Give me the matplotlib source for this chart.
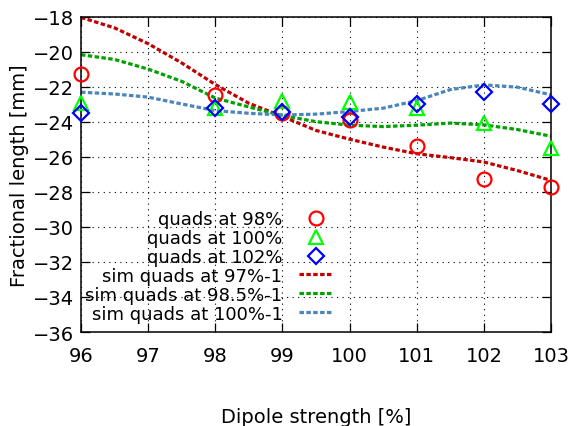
import matplotlib.pyplot as plt

# measured points
x_meas = [96, 98, 99, 100, 101, 102, 103]
q98 = [-21.3, -22.5, -23.5, -23.9, -25.4, -27.25, -27.7]
q100 = [-22.95, -23.2, -22.8, -22.85, -23.22, -24.05, -25.5]
q102 = [-23.5, -23.2, -23.45, -23.75, -23.0, -22.3, -23.0]

# simulated curves
x_sim = [96, 96.5, 97, 97.5, 98, 98.5, 99, 99.5, 100, 100.5, 101, 101.5, 102, 102.5, 103]
sim97 = [-18.05, -18.65, -19.55, -20.65, -21.88, -22.95, -23.7, -24.5, -25.0,
         -25.45, -25.83, -26.05, -26.3, -26.79, -27.35]
sim985 = [-20.18, -20.45, -21.0, -21.7, -22.65, -23.16, -23.65, -24.0, -24.2,
          -24.28, -24.2, -24.08, -24.18, -24.45, -24.83]
sim100 = [-22.32, -22.42, -22.6, -22.99, -23.37, -23.52, -23.62, -23.57, -23.42,
          -23.23, -22.8, -22.17, -21.9, -22.03, -22.47]

xticks = [96, 97, 98, 99, 100, 101, 102, 103]
yticks = list(range(-36, -17, 2))

fig = plt.figure(figsize=(5.75, 4.27), dpi=100)
ax = fig.add_axes([0.1409, 0.2201, 0.8174, 0.7389])

ms = 10
mew = 1.6
ax.plot(x_meas, q98, 'o', ms=ms, mfc='none', mec='#ff0000', mew=mew, clip_on=False,
        zorder=4, label='quads at 98%')
ax.plot(x_meas, q100, '^', ms=ms, mfc='none', mec='#00ff00', mew=mew, clip_on=False,
        zorder=4, label='quads at 100%')
ax.plot(x_meas, q102, 'D', ms=8, mfc='none', mec='#0000ff', mew=mew, clip_on=False,
        zorder=4, label='quads at 102%')

dash = (0, (1.4, 0.75))
ax.plot(x_sim, sim97, color='#c00000', lw=2.3, ls=dash, label='sim quads at 97%-1')
ax.plot(x_sim, sim985, color='#00a000', lw=2.3, ls=dash, label='sim quads at 98.5%-1')
ax.plot(x_sim, sim100, color='#4a86bb', lw=2.3, ls=dash, label='sim quads at 100%-1')

ax.set_xlim(96, 103)
ax.set_ylim(-36, -18)
ax.set_xticks(xticks)
ax.set_yticks(yticks)
ax.grid(True, color='black', lw=0.8, ls=(0, (1, 4)))
ax.tick_params(direction='in', length=6.5, width=0.9, top=True, right=True, labelsize=14)
ax.tick_params(axis='x', pad=10)
ax.tick_params(axis='y', pad=5)
for s in ax.spines.values():
    s.set_linewidth(1.1)

ax.set_xlabel('Dipole strength [%]', fontsize=14, labelpad=30)
ax.set_ylabel('Fractional length [mm]', fontsize=14, labelpad=3)

ax.legend(loc='lower right', bbox_to_anchor=(0.536, 0.03), frameon=False, markerfirst=False,
          fontsize=13, handlelength=1.9, handletextpad=0.9, labelspacing=0.05,
          borderpad=0, borderaxespad=0)

fig.savefig('out.png', dpi=100)
